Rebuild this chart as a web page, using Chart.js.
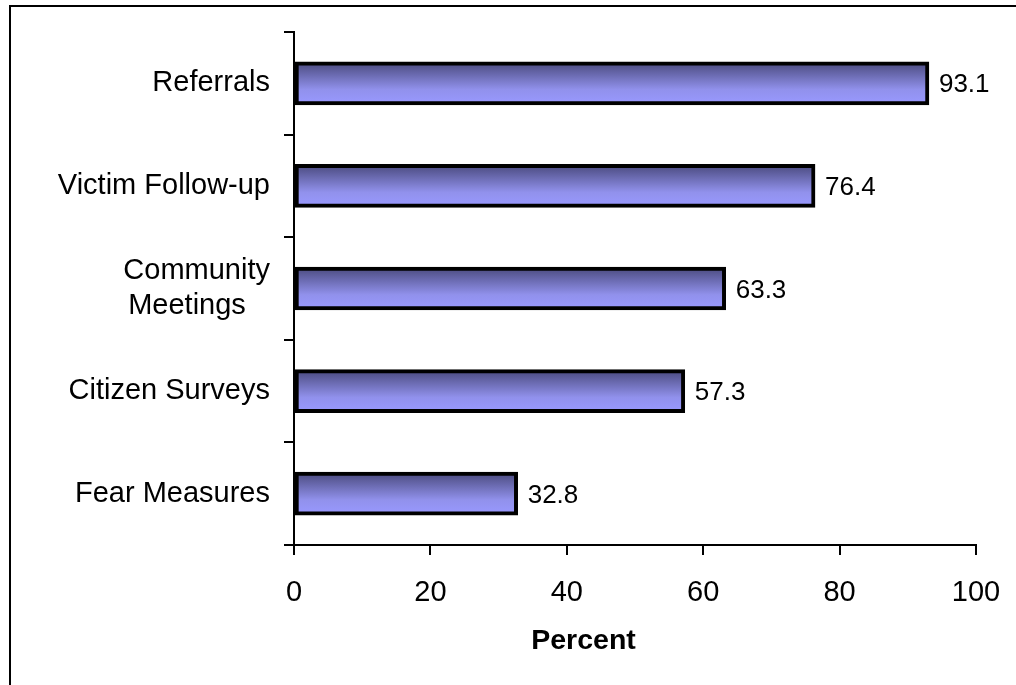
<!DOCTYPE html>
<html>
<head>
<meta charset="utf-8">
<script src="https://cdn.jsdelivr.net/npm/chart.js@4"></script>
<style>
    html, body { margin: 0; padding: 0; background: #fff; overflow: hidden; width: 1016px; height: 685px; }
    #wrap { position: relative; width: 1016px; height: 685px; overflow: hidden; }
    #frame { position: absolute; left: 9px; top: 5px; width: 1200px; height: 900px; border: 2px solid #000; }
    #chart { position: absolute; left: 0; top: 0; }
</style>
</head>
<body>
<div id="wrap">
    <div id="frame"></div>
    <canvas id="chart" width="1016" height="685"></canvas>
</div>
<script>
const categories = ['Referrals', 'Victim Follow-up', ['Community', 'Meetings\u00a0\u00a0\u00a0'], 'Citizen Surveys', 'Fear Measures'];
const percents = [93.1, 76.4, 63.3, 57.3, 32.8];
const xTicks = [0, 20, 40, 60, 80, 100];
const xTitle = 'Percent';

const FONT = "'Liberation Sans', Arial, sans-serif";

// value labels to the right of each bar
const valueLabels = {
    id: 'valueLabels',
    afterDatasetsDraw(chart) {
        const { ctx } = chart;
        const meta = chart.getDatasetMeta(0);
        ctx.save();
        ctx.font = '26px ' + FONT;
        ctx.fillStyle = '#000';
        ctx.textAlign = 'left';
        ctx.textBaseline = 'middle';
        meta.data.forEach((bar, i) => {
            ctx.fillText(percents[i].toFixed(1), bar.x + 10, bar.y + 2);
        });
        ctx.restore();
    }
};

function barGradient(context) {
    const chart = context.chart;
    const y = chart.scales.y;
    if (!y || context.dataIndex === undefined) return '#9999ff';
    const cy = y.getPixelForValue(context.dataIndex);
    if (!isFinite(cy)) return '#9999ff';
    const g = chart.ctx.createLinearGradient(0, cy - 21, 0, cy + 21);
    g.addColorStop(0, '#4a4a7e');
    g.addColorStop(0.65, '#9191ec');
    g.addColorStop(1, '#9999ff');
    return g;
}

new Chart(document.getElementById('chart'), {
    type: 'bar',
    data: {
        labels: categories,
        datasets: [{
            data: percents,
            backgroundColor: barGradient,
            borderColor: '#000',
            borderWidth: 4,
            borderSkipped: false,
            barThickness: 43,
        }],
    },
    options: {
        indexAxis: 'y',
        responsive: false,
        animation: false,
        layout: { padding: { left: 0, top: 32, right: 40, bottom: 0 } },
        plugins: {
            legend: { display: false },
            tooltip: { enabled: false },
        },
        scales: {
            x: {
                min: 0,
                max: 100,
                afterBuildTicks: (scale) => { scale.ticks = xTicks.map(v => ({ value: v })); },
                afterFit: (scale) => {
                    scale.height = 140;
                    scale.paddingLeft = 0;
                    scale.paddingRight = 0;
                },
                border: { display: true, color: '#000', width: 2 },
                grid: { drawOnChartArea: false, color: '#000', lineWidth: 2, tickLength: 10 },
                ticks: { color: '#000', font: { family: FONT, size: 29 }, padding: 21, maxRotation: 0 },
                title: {
                    display: true,
                    // title sits left of the axis centre in the original
                    text: xTitle + '\u00a0'.repeat(13),
                    color: '#000',
                    font: { family: FONT, size: 28.5, weight: 'bold' },
                    padding: { top: 0, bottom: 27 },
                },
            },
            y: {
                afterFit: (scale) => { scale.width = 294; },
                border: { display: true, color: '#000', width: 2 },
                grid: { drawOnChartArea: false, color: '#000', lineWidth: 2, tickLength: 10, offset: true },
                ticks: { color: '#000', font: { family: FONT, size: 29 }, padding: 14 },
            },
        },
    },
    plugins: [valueLabels],
});
</script>
</body>
</html>
